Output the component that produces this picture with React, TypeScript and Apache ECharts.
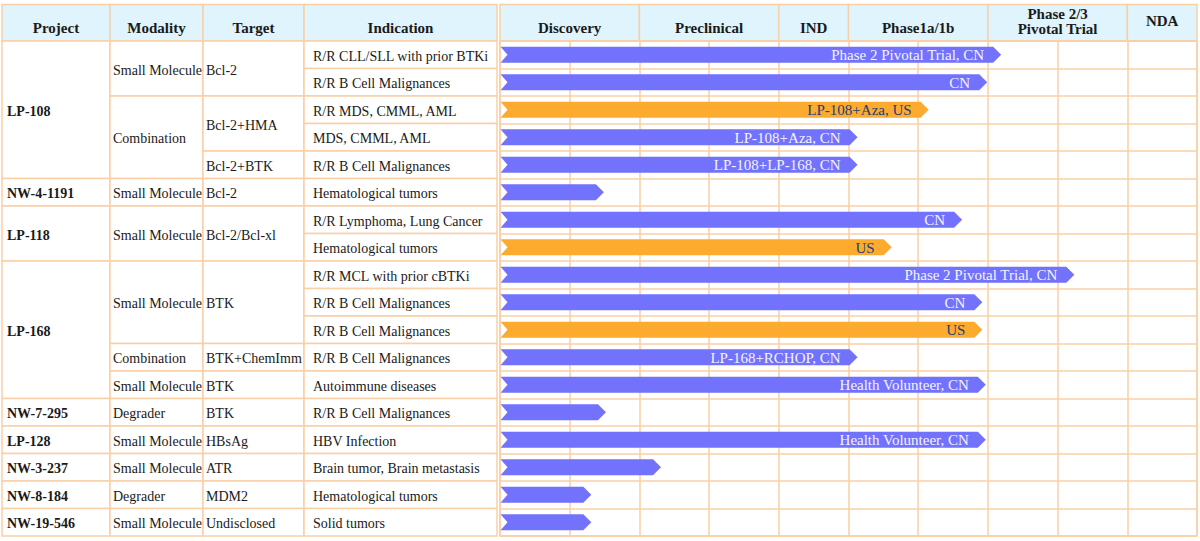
import React, { useEffect, useRef } from "react";
import * as echarts from "echarts";

// ---------- data ----------
const indications = [
  "R/R CLL/SLL with prior BTKi",
  "R/R B Cell Malignances",
  "R/R MDS, CMML, AML",
  "MDS, CMML, AML",
  "R/R B Cell Malignances",
  "Hematological tumors",
  "R/R Lymphoma, Lung Cancer",
  "Hematological tumors",
  "R/R MCL with prior cBTKi",
  "R/R B Cell Malignances",
  "R/R B Cell Malignances",
  "R/R B Cell Malignances",
  "Autoimmune diseases",
  "R/R B Cell Malignances",
  "HBV Infection",
  "Brain tumor, Brain metastasis",
  "Hematological tumors",
  "Solid tumors",
];

// [startRow, rowCount, text]
const projectSpans: [number, number, string][] = [
  [0, 5, "LP-108"],
  [5, 1, "NW-4-1191"],
  [6, 2, "LP-118"],
  [8, 5, "LP-168"],
  [13, 1, "NW-7-295"],
  [14, 1, "LP-128"],
  [15, 1, "NW-3-237"],
  [16, 1, "NW-8-184"],
  [17, 1, "NW-19-546"],
];
const modalitySpans: [number, number, string][] = [
  [0, 2, "Small Molecule"],
  [2, 3, "Combination"],
  [5, 1, "Small Molecule"],
  [6, 2, "Small Molecule"],
  [8, 3, "Small Molecule"],
  [11, 1, "Combination"],
  [12, 1, "Small Molecule"],
  [13, 1, "Degrader"],
  [14, 1, "Small Molecule"],
  [15, 1, "Small Molecule"],
  [16, 1, "Degrader"],
  [17, 1, "Small Molecule"],
];
const targetSpans: [number, number, string][] = [
  [0, 2, "Bcl-2"],
  [2, 2, "Bcl-2+HMA"],
  [4, 1, "Bcl-2+BTK"],
  [5, 1, "Bcl-2"],
  [6, 2, "Bcl-2/Bcl-xl"],
  [8, 3, "BTK"],
  [11, 1, "BTK+ChemImm"],
  [12, 1, "BTK"],
  [13, 1, "BTK"],
  [14, 1, "HBsAg"],
  [15, 1, "ATR"],
  [16, 1, "MDM2"],
  [17, 1, "Undisclosed"],
];

const leftHeaders = ["Project", "Modality", "Target", "Indication"];
// phase name, number of sub-columns
const phases: [string, number][] = [
  ["Discovery", 2],
  ["Preclinical", 2],
  ["IND", 1],
  ["Phase1a/1b", 2],
  ["Phase 2/3\nPivotal Trial", 2],
  ["NDA", 1],
];

// progress in sub-column units (0..10)
const progress = [7.19, 6.99, 6.15, 5.13, 5.13, 1.49, 6.63, 5.62, 8.24, 6.92, 6.92, 5.13, 6.97, 1.52, 6.97, 2.31, 1.31, 1.31];
const barLabels = [
  "Phase 2 Pivotal Trial, CN",
  "CN",
  "LP-108+Aza, US",
  "LP-108+Aza, CN",
  "LP-108+LP-168, CN",
  "",
  "CN",
  "US",
  "Phase 2 Pivotal Trial, CN",
  "CN",
  "US",
  "LP-168+RCHOP, CN",
  "Health Volunteer, CN",
  "",
  "Health Volunteer, CN",
  "",
  "",
  "",
];
const barRegion = ["CN", "CN", "US", "CN", "CN", "CN", "CN", "US", "CN", "CN", "US", "CN", "CN", "CN", "CN", "CN", "CN", "CN"];

// ---------- style ----------
const FONT = '"Liberation Serif", "Times New Roman", serif';
const LINE = "#f9cfa6";
const HEAD_FILL = "#dff4fc";
const BLUE = "#7272fc";
const ORANGE = "#fdab2f";
const TEXT = "#1a1a1a";

const HEAD_TOP = 4.5;
const TOP = 41;
const ROW_H = 27.5;
const N = indications.length;
const BOTTOM = TOP + ROW_H * N;
const colX = [2, 110, 203, 304, 497];
const R_LEFT = 500;
const R_RIGHT = 1197;
const SUBS = 10;
const SUB_W = (R_RIGHT - R_LEFT) / SUBS;

function buildGraphic() {
  const g: any[] = [];
  // left header
  for (let i = 0; i < 4; i++) {
    g.push({
      type: "rect",
      shape: { x: colX[i], y: HEAD_TOP, width: colX[i + 1] - colX[i], height: TOP - HEAD_TOP },
      style: { fill: HEAD_FILL, stroke: LINE, lineWidth: 1.5 },
    });
    g.push({
      type: "text",
      style: {
        text: leftHeaders[i],
        x: (colX[i] + colX[i + 1]) / 2,
        y: 28,
        align: "center",
        verticalAlign: "middle",
        fontFamily: FONT,
        fontWeight: "bold",
        fontSize: 15,
        fill: TEXT,
      },
    });
  }
  // right header
  let s = 0;
  phases.forEach(([name, span]) => {
    const x0 = R_LEFT + s * SUB_W;
    const w = span * SUB_W;
    g.push({
      type: "rect",
      shape: { x: x0, y: HEAD_TOP, width: w, height: TOP - HEAD_TOP },
      style: { fill: HEAD_FILL, stroke: LINE, lineWidth: 1.5 },
    });
    const lines = name.split("\n");
    const ys = lines.length === 2 ? [14, 29] : name === "NDA" ? [20.5] : [27.5];
    lines.forEach((t, k) =>
      g.push({
        type: "text",
        style: {
          text: t,
          x: x0 + w / 2,
          y: ys[k],
          align: "center",
          verticalAlign: "middle",
          fontFamily: FONT,
          fontWeight: "bold",
          fontSize: 15,
          lineHeight: 15,
          fill: TEXT,
        },
      })
    );
    s += span;
  });
  // left body cells
  const cols: [number, number, string][][] = [
    projectSpans,
    modalitySpans,
    targetSpans,
    indications.map((t, i) => [i, 1, t] as [number, number, string]),
  ];
  cols.forEach((spans, ci) => {
    spans.forEach(([r, n, t]) => {
      const y0 = TOP + r * ROW_H;
      const h = n * ROW_H;
      g.push({
        type: "rect",
        shape: { x: colX[ci], y: y0, width: colX[ci + 1] - colX[ci], height: h },
        style: { fill: "#ffffff", stroke: LINE, lineWidth: 1.5 },
      });
      g.push({
        type: "text",
        style: {
          text: t,
          x: colX[ci] + (ci === 0 ? 5 : ci === 3 ? 9 : 3),
          y: y0 + h / 2 + 1.5,
          align: "left",
          verticalAlign: "middle",
          fontFamily: FONT,
          fontWeight: ci === 0 ? "bold" : "normal",
          fontSize: 14,
          fill: TEXT,
        },
      });
    });
  });
  // right body outer border
  g.push({
    type: "rect",
    z: 10,
    shape: { x: R_LEFT, y: TOP, width: R_RIGHT - R_LEFT, height: BOTTOM - TOP },
    style: { fill: "none", stroke: LINE, lineWidth: 1.5 },
  });
  return g;
}

export default function App() {
  const ref = useRef<HTMLDivElement>(null);
  useEffect(() => {
    if (!ref.current) return;
    const chart = echarts.init(ref.current, undefined, { renderer: "svg" });
    const rows = indications.map((_, i) => String(i));
    chart.setOption({
      animation: false,
      backgroundColor: "#ffffff",
      grid: { left: R_LEFT, top: TOP, width: R_RIGHT - R_LEFT, height: BOTTOM - TOP, containLabel: false },
      xAxis: {
        type: "value",
        min: 0,
        max: SUBS,
        interval: 1,
        axisLine: { show: false },
        axisTick: { show: false },
        axisLabel: { show: false },
        splitLine: { show: true, lineStyle: { color: LINE, width: 1.5 } },
      },
      yAxis: {
        type: "category",
        data: rows,
        inverse: true,
        axisLine: { show: false },
        axisTick: { show: false },
        axisLabel: { show: false },
        splitLine: { show: true, lineStyle: { color: LINE, width: 1.5 } },
      },
      graphic: buildGraphic(),
      series: [
        {
          type: "custom",
          data: progress.map((v, i) => [i, v]),
          encode: { x: 1, y: 0 },
          renderItem: (params: any, api: any) => {
            const i = params.dataIndex;
            const row = api.value(0);
            const end = api.value(1);
            const p0 = api.coord([0, row]);
            const p1 = api.coord([end, row]);
            const yc = p0[1];
            const hh = 8;
            const x0 = p0[0] + 0.5;
            const xe = p1[0];
            const isUS = barRegion[i] === "US";
            const fill = isUS ? ORANGE : BLUE;
            const children: any[] = [
              {
                type: "polygon",
                shape: {
                  points: [
                    [x0, yc - hh],
                    [xe - 8, yc - hh],
                    [xe, yc],
                    [xe - 8, yc + hh],
                    [x0, yc + hh],
                    [x0 + 7, yc],
                  ],
                },
                style: { fill },
              },
            ];
            if (barLabels[i]) {
              children.push({
                type: "text",
                style: {
                  text: barLabels[i],
                  x: xe - 17,
                  y: yc + 0.5,
                  align: "right",
                  verticalAlign: "middle",
                  fontFamily: FONT,
                  fontSize: 15,
                  fill: isUS ? "#22417a" : "#f4f4ff",
                },
              });
            }
            return { type: "group", children };
          },
        },
      ],
    });
    return () => chart.dispose();
  }, []);
  return (
    <div
      ref={ref}
      style={{ position: "fixed", left: 0, top: 0, width: 1200, height: 541, background: "#fff" }}
    />
  );
}
